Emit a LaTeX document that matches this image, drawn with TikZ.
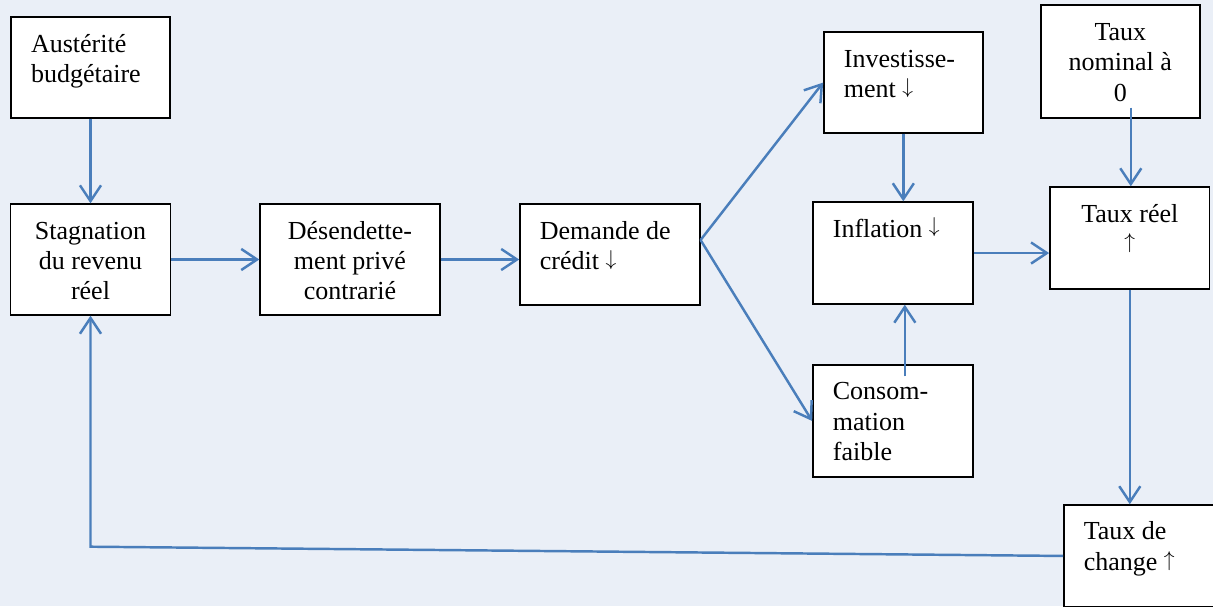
\documentclass[tikz,border=0pt]{standalone}
\usepackage{fontspec}
\setmainfont{Liberation Serif}
\usepackage{graphicx}
\usepackage{tikz}
\usetikzlibrary{positioning,calc,arrows.meta}

\definecolor{bgblue}{RGB}{234,239,247}
\definecolor{flowblue}{RGB}{74,126,187}

\newlength{\pxu}
\setlength{\pxu}{0.02cm}
% width, height, alignment, lines of one box
\newcommand{\boxlines}[4]{\parbox[t][#2][t]{#1}{#3\rule{0pt}{35\pxu}#4}}
\newcommand{\lft}{\raggedright\leftskip=20\pxu}
\newcommand{\ctr}{\centering}
\newcommand{\dn}{\raisebox{0.16em}{\scalebox{0.85}{$\downarrow$}}}
\newcommand{\up}{\raisebox{0.16em}{\scalebox{0.85}{$\uparrow$}}}

\begin{document}
\begin{tikzpicture}[x=0.02cm, y=-0.02cm,
	box/.style={rectangle, draw=black, line width=0.8pt, fill=white, inner sep=0pt, font=\fontsize{14.8pt}{17.35pt}\selectfont},
	flow/.style={color=flowblue, line width=1.4pt, -{Straight Barb[length=9pt,width=12pt]}}]
	\useasboundingbox[fill=bgblue] (0,0) rectangle (1213,606);

	\node[box] (stag) at (90.5,259.5) {\boxlines{3.2cm}{2.22cm}{\ctr}{Stagnation\\du revenu\\réel}};
	
	\node[box, above of=stag, node distance=3.84cm] (aust) {\boxlines{3.18cm}{2.02cm}{\lft}{Austérité\\budgétaire}};
	
	\node[box, right of=stag, node distance=5.19cm] (desend) {\boxlines{3.6cm}{2.22cm}{\ctr}{Désendette-\\ment privé\\contrarié}};
	
	\node[box, right of=desend, node distance=5.2cm, yshift=0.1cm] (dem) {\boxlines{3.6cm}{2.02cm}{\lft}{Demande de\\crédit \dn}};
	
	\node[box, right of=dem, node distance=5.66cm, yshift=0.03cm] (infl) {\boxlines{3.2cm}{2.04cm}{\lft}{Inflation \dn}};
	
	\node[box, above of=infl, node distance=3.41cm, xshift=0.21cm] (invest) {\boxlines{3.18cm}{2.02cm}{\lft}{Investisse-\\ment \dn}};
	
	\node[box, below of=infl, node distance=3.36cm] (consom) {\boxlines{3.2cm}{2.24cm}{\lft}{Consom-\\mation\\faible}};
	
	\node[box, right of=infl, node distance=4.74cm, yshift=0.3cm] (reel) {\boxlines{3.2cm}{2.04cm}{\ctr}{Taux réel\\\up}};
	
	\node[box, above of=reel, node distance=3.53cm, xshift=-0.19cm] (nomin) {\boxlines{3.18cm}{2.26cm}{\ctr}{Taux\\nominal à\\0}};
	
	\node[box, below of=reel, node distance=6.36cm, xshift=0.28cm] (change) {\boxlines{3.2cm}{2.04cm}{\lft}{Taux de\\change \up}};
	
	\draw[flow] (aust) -- (stag);
	\draw[flow] (stag) -- (desend);
	\draw[flow] (desend.east) -- (desend.east -| dem.west);
	\draw[flow] ($(dem.east)+(0,-14.5)$) coordinate (fan) -- (invest.west);
	\draw[flow] (fan) -- (consom.west);
	\draw[flow] (invest.south) -- (invest.south |- infl.north);
	\draw[flow] ($(consom.north)+(12,12)$) coordinate (rise) -- (rise |- infl.south);
	\draw[flow] (infl.east) -- (infl.east -| reel.west);
	\draw[flow] ($(nomin.south)+(10.5,-11)$) coordinate (drop) -- (drop |- reel.north);
	\draw[flow] (reel.south) -- (reel.south |- change.north);
	\draw[flow] (change.west) -- ($(stag.south)+(0,231)$) -- (stag.south);
\end{tikzpicture}
\end{document}
